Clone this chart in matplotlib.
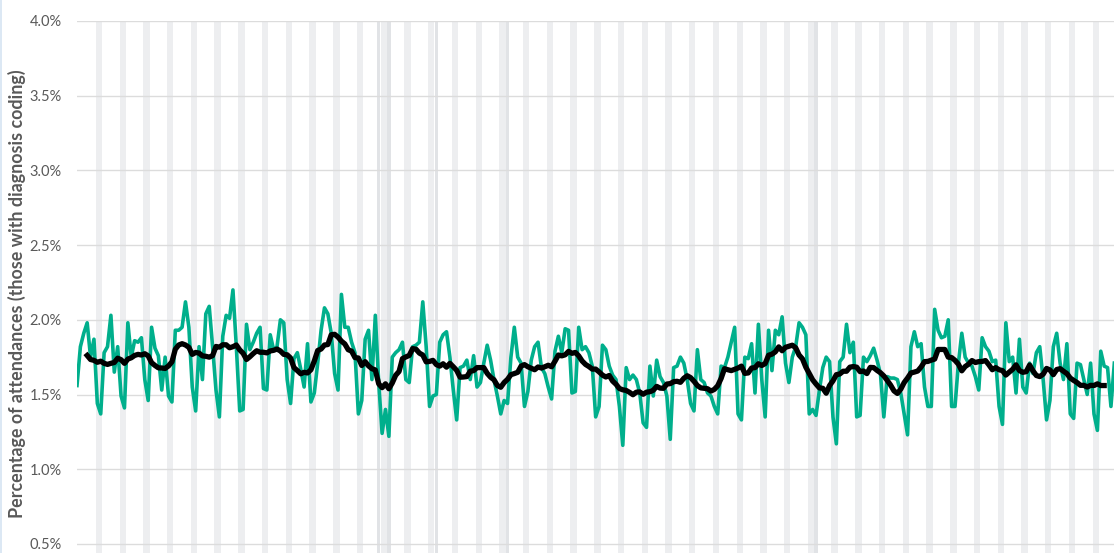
import numpy as np
import pandas as pd
import matplotlib
matplotlib.use("Agg")
import matplotlib.pyplot as plt
from matplotlib.lines import Line2D

# ---- data: daily percentage of attendances (day 0 = a Sunday) ----
pct_block1 = [1.56,
              1.82, 1.91, 1.98, 1.75, 1.87, 1.44, 1.37,
              1.78, 1.82, 2.03, 1.65, 1.82, 1.49, 1.41,
              1.98, 1.75, 1.86, 1.85, 1.88, 1.60, 1.46,
              1.95, 1.81, 1.76, 1.53, 1.75, 1.49, 1.45,
              1.93, 1.93, 1.95, 2.12, 1.95, 1.55, 1.39,
              1.82, 1.60, 2.04, 2.09, 1.82, 1.53, 1.35,
              1.89, 2.03, 2.01, 2.20, 1.82, 1.39, 1.40]
pct_block2 = [1.97, 1.80, 1.85, 1.91, 1.95, 1.54, 1.53,
              1.90, 1.80, 1.82, 2.00, 1.98, 1.60, 1.44,
              1.74, 1.78, 1.67, 1.55, 1.84, 1.45, 1.51,
              1.71, 1.93, 2.08, 2.04, 1.91, 1.64, 1.53,
              2.17, 1.95, 1.95, 1.85, 1.78, 1.37, 1.46,
              1.87, 1.93, 1.60, 2.03, 1.58, 1.24, 1.40,
              1.22, 1.75, 1.78, 1.80, 1.85, 1.60, 1.58]
pct_block3 = [1.82, 1.83, 1.85, 2.12, 1.82, 1.42, 1.49,
              1.50, 1.85, 1.90, 1.92, 1.75, 1.53, 1.33,
              1.68, 1.69, 1.73, 1.60, 1.76, 1.55, 1.58,
              1.71, 1.83, 1.73, 1.60, 1.49, 1.37, 1.46,
              1.44, 1.75, 1.95, 1.75, 1.71, 1.42, 1.52,
              1.73, 1.82, 1.85, 1.68, 1.64, 1.55, 1.47,
              1.79, 1.89, 1.78, 1.94, 1.93, 1.51, 1.52]
pct_block4 = [1.95, 1.80, 1.82, 1.78, 1.69, 1.35, 1.42,
              1.83, 1.80, 1.69, 1.63, 1.60, 1.42, 1.16,
              1.68, 1.60, 1.63, 1.60, 1.51, 1.31, 1.28,
              1.69, 1.49, 1.73, 1.62, 1.58, 1.49, 1.20,
              1.68, 1.69, 1.75, 1.71, 1.60, 1.44, 1.39,
              1.80, 1.60, 1.58, 1.51, 1.49, 1.42, 1.37,
              1.69, 1.68, 1.75, 1.85, 1.95, 1.37, 1.33]
pct_block5 = [1.75, 1.74, 1.84, 1.51, 1.97, 1.60, 1.35,
              1.93, 1.66, 1.93, 1.90, 2.02, 1.71, 1.58,
              1.75, 1.82, 1.98, 1.95, 1.90, 1.37, 1.40,
              1.36, 1.53, 1.68, 1.75, 1.72, 1.35, 1.17,
              1.72, 1.75, 1.97, 1.78, 1.85, 1.35, 1.36,
              1.75, 1.72, 1.76, 1.81, 1.73, 1.64, 1.35,
              1.62, 1.61, 1.61, 1.60, 1.51, 1.37, 1.23]
pct_block6 = [1.82, 1.92, 1.82, 1.84, 1.55, 1.42, 1.42,
              2.07, 1.93, 1.88, 1.89, 2.00, 1.42, 1.42,
              1.71, 1.91, 1.75, 1.71, 1.69, 1.62, 1.53,
              1.88, 1.82, 1.79, 1.72, 1.73, 1.42, 1.30,
              1.98, 1.72, 1.75, 1.51, 1.87, 1.55, 1.51,
              1.71, 1.64, 1.78, 1.82, 1.60, 1.33, 1.46,
              1.82, 1.91, 1.71, 1.60, 1.84, 1.37, 1.34,
              1.71, 1.70, 1.60, 1.50, 1.71, 1.37, 1.26,
              1.79, 1.69, 1.68, 1.42, 1.71]

bank_holidays = [89, 92, 106, 127, 218]   # day indices
y_ticks = [0.5, 1.0, 1.5, 2.0, 2.5, 3.0, 3.5, 4.0]
y_label = "Percentage of attendances (those with diagnosis coding)"

daily = pd.Series(pct_block1 + pct_block2 + pct_block3 +
                  pct_block4 + pct_block5 + pct_block6)
days = np.arange(len(daily))
rolling = daily.rolling(7, center=True).mean()

# ---- figure ----
W, H = 1114, 553
fig = plt.figure(figsize=(W / 100, H / 100), dpi=100)
ax_left, ax_top, ax_right = 77, 21, 1114
ax = fig.add_axes([ax_left / W, 0, (ax_right - ax_left) / W, 1 - ax_top / H])

px_per_day = 3.39
x_max = (ax_right - ax_left) / px_per_day
y_min = 4.0 - (H - ax_top) / 149.4
ax.set_xlim(0, x_max)
ax.set_ylim(y_min, 4.0)

grey = "#EDEEF0"
for d in days:
    if d % 7 in (6, 0) and d > 0:
        ax.axvspan(d - 0.44, d + 0.44, color=grey, lw=0, zorder=0)
    if d % 7 == 6:
        ax.axvspan(d + 0.44, d + 0.56, color=grey, lw=0, zorder=0)
for d in bank_holidays:
    ax.axvspan(d - 0.5, d + 0.5, color="#E1E3E6", lw=0, zorder=0)

for t in y_ticks:
    ax.axhline(t, color="#DCDCDC", lw=1.0, zorder=1)

ax.plot(days, daily, color="#00AF8C", lw=2.6, zorder=3, solid_joinstyle="round")
ax.plot(days, rolling, color="black", lw=3.8, zorder=4, solid_joinstyle="round")

ax.set_yticks(y_ticks)
ax.set_yticklabels([f"{t:.1f}%" for t in y_ticks], fontfamily="Lato",
                   fontsize=10.5, color="#595959")
ax.tick_params(axis="y", length=0, pad=11)
ax.set_xticks([])
for s in ax.spines.values():
    s.set_visible(False)

fig.text(17 / W, 1 - 294 / H, y_label, rotation=90, ha="center", va="center",
         fontfamily="Lato", fontweight="bold", fontsize=12.9, color="#595959")

fig.add_artist(Line2D([0.5 / W, 0.5 / W], [0, 1], color="#D6E4F2", lw=1.2))

fig.savefig("out.png", dpi=100)
